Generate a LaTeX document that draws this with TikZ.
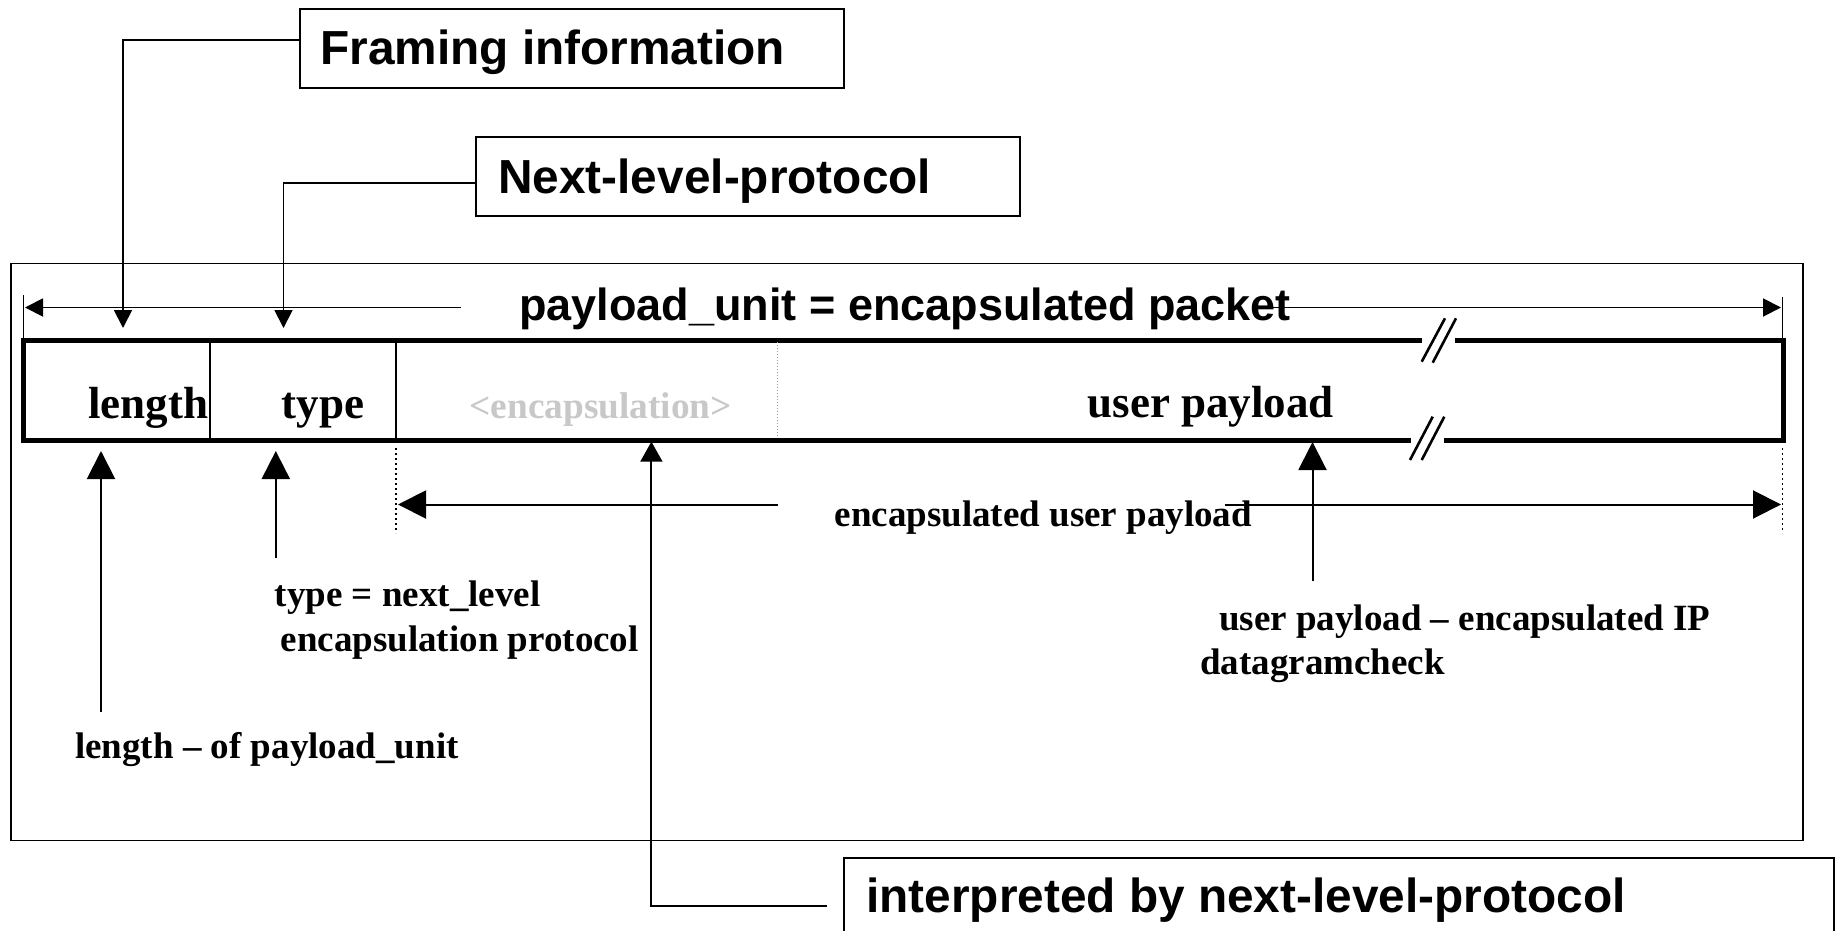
\documentclass[tikz,border=0pt]{standalone}
\usepackage{fontspec}
\setmainfont{Liberation Serif}
\newfontfamily\headfont{Liberation Sans}
\usetikzlibrary{arrows.meta,calc}
\definecolor{encgray}{RGB}{200,200,200}
\definecolor{dotgray}{RGB}{150,150,150}
\begin{document}
\begin{tikzpicture}[x=1pt,y=-1pt,
  frame/.style={line width=1.8pt},
  tagbox/.style={draw,line width=2pt,inner sep=0pt,anchor=north west},
  head/.style={inner sep=0pt,anchor=base west,font=\headfont\bfseries\fontsize{47.8}{56}\selectfont},
  field/.style={inner sep=0pt,anchor=base west,font=\bfseries\fontsize{45}{54}\selectfont},
  small/.style={inner sep=0pt,anchor=base west,font=\bfseries\fontsize{37}{44}\selectfont},
  bar/.style={line width=5pt,line join=miter},
  divider/.style={line width=2pt},
  brk/.style={line width=2.6pt},
  conn/.style={line width=1.9pt},
  dotline/.style={line width=1.6pt,dash pattern=on 1.6pt off 3.4pt},
  smallhead/.style={-{Triangle[length=18pt,width=18pt]}},
  bighead/.style={-{Triangle[length=28pt,width=28pt]}},
  midhead/.style={-{Triangle[length=20pt,width=22pt]}}]
\useasboundingbox (0,0) rectangle (1841,931);
\clip (0,0) rectangle (1841,931);

% outer frame
\draw[frame] (10.6,263.5) rectangle (1803,840.5);

% labelled boxes
\node[tagbox,minimum width=544pt,minimum height=79pt] (fr) at (299,8.3) {};
\node[head] (frt) at (320,65) {Framing information};
\node[tagbox,minimum width=544pt,minimum height=79pt] (nx) at (475.4,136) {};
\node[head] (nxt) at (498,193) {Next-level-protocol};
\node[tagbox,minimum width=990pt,minimum height=97pt] (ip) at (843,856.7) {};
\node[head] (ipt) at (866,912) {interpreted by next-level-protocol};

% packet bar with break marks
\draw[bar] (1421.7,340) -- (23.5,340) -- (23.5,440) -- (1411,440);
\draw[bar] (1444.3,440) -- (1783.7,440) -- (1783.7,340) -- (1455,340);
\draw[brk] (1421.7,361.7) -- (1445,318.3);
\draw[brk] (1432.7,362.7) -- (1456,318.3);
\draw[brk] (1410,460) -- (1432.7,416.7);
\draw[brk] (1421.7,460) -- (1444.3,416.7);

% field separators
\draw[divider] (210.1,340) -- (210.1,440);
\draw[divider] (396.1,340) -- (396.1,440);
\draw[dotgray,line width=1pt,dash pattern=on 1pt off 2pt] (777.6,342) -- (777.6,438);

% field names
\node[field] (lenL) at (88,418) {length};
\node[field] (typL) at (281.7,418) {type};
\node[small,text=encgray,font=\bfseries\fontsize{37.3}{44}\selectfont] (encL) at (469.5,418) {<encapsulation>};
\node[field] (upL) at (1087.5,417) {user payload};

% payload_unit span
\node[head,font=\headfont\bfseries\fontsize{45}{54}\selectfont] (pu) at (519,320) {payload\_unit = encapsulated packet};
\coordinate (puL) at (25,307.5);
\coordinate (puR) at (1781,307.5);
\draw[conn,smallhead] ($(pu.west |- puL)+(-58,0)$) -- (puL);
\draw[conn,smallhead] ($(pu.east |- puR)+(-26,0)$) -- (puR);
\draw[conn] (23.5,295) -- (23.5,340);
\draw[conn] (1782.5,297) -- (1782.5,340);

% connectors from the labelled boxes
\coordinate (lenTop) at (123,328);
\coordinate (typTop) at (283.5,328);
\draw[conn,smallhead] ($(fr.north west)+(0,31.7)$) -| (lenTop);
\draw[conn,smallhead] ($(nx.north west)+(0,47.3)$) -| (typTop);
\coordinate (encTip) at (651.4,441.7);
\draw[conn,midhead] ($(ip.west)+(-16,0)$) -| (encTip);

% encapsulated user payload span
\node[small] (eup) at (834.5,526) {encapsulated user payload};
\coordinate (eupL) at (398,504.5);
\coordinate (eupR) at (1781,504.5);
\draw[divider,bighead] ($(eup.west |- eupL)+(-57,0)$) -- (eupL);
\draw[divider,bighead] ($(eup.east |- eupR)+(-27,0)$) -- (eupR);
\draw[dotline] (396.1,448) -- (396.1,533);
\draw[dotline] (1782.5,448) -- (1782.5,533);

% descriptions with their arrows
\node[small] (tyD1) at (274.6,606) {type = next\_level};
\node[small] (tyD2) at (280.5,651) {encapsulation protocol};
\node[small] (lenD) at (75,758) {length – of payload\_unit};
\node[small] (upD1) at (1219,630.5) {user payload – encapsulated IP};
\node[small] (upD2) at (1200,674.5) {datagramcheck};

\coordinate (lenFoot) at (101,711.7);
\coordinate (lenTip) at (101,451);
\coordinate (typFoot) at (275.8,558.3);
\coordinate (typTip) at (275.8,451);
\coordinate (upFoot) at (1312.5,581);
\coordinate (upTip) at (1312.5,442);
\draw[divider,bighead] (lenFoot) -- (lenTip);
\draw[divider,bighead] (typFoot) -- (typTip);
\draw[divider,bighead] (upFoot) -- (upTip);
\end{tikzpicture}
\end{document}
